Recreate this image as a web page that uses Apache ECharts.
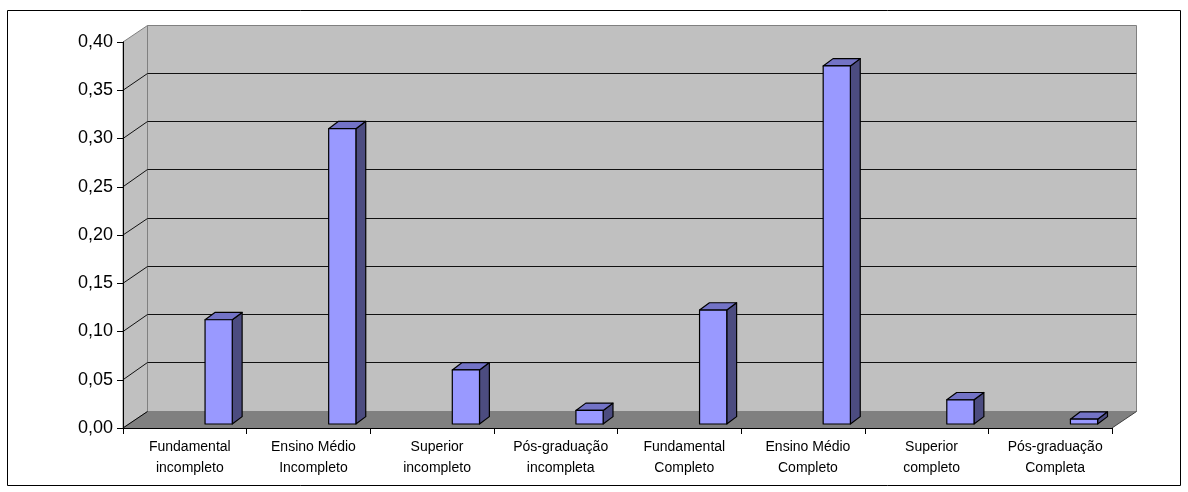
<!DOCTYPE html>
<html>
<head>
<meta charset="utf-8">
<script src="https://cdn.jsdelivr.net/npm/echarts@6/dist/echarts.min.js"></script>
<style>
  html, body { margin: 0; padding: 0; background: #ffffff; }
  #chart { width: 1188px; height: 492px; }
</style>
</head>
<body>
<div id="chart"></div>
<script>
// Education level categories and their shares
const categories = [
  'Fundamental\nincompleto',
  'Ensino Médio\nIncompleto',
  'Superior\nincompleto',
  'Pós-graduação\nincompleta',
  'Fundamental\nCompleto',
  'Ensino Médio\nCompleto',
  'Superior\ncompleto',
  'Pós-graduação\nCompleta'
];
const values = [0.108, 0.306, 0.056, 0.014, 0.118, 0.371, 0.025, 0.005];
const yTicks = [0, 0.05, 0.10, 0.15, 0.20, 0.25, 0.30, 0.35, 0.40];

// Oblique depth of the plot box, in pixels (x shift, y shift)
const DEPTH = [23.5, -17.5];
// Where each column sits inside the box depth and inside its category slot
const BAR_FRONT = 0.23, BAR_BACK = 0.65;
const BAR_LEFT = 0.62, BAR_WIDTH = 0.22;

const FONT = '"Liberation Sans", Arial, sans-serif';

function fmt(v) { return v.toFixed(2).replace('.', ','); }

// Walls, floor and back gridlines of the 3D box
function renderFrame(params, api) {
  const n = categories.length;
  const w = api.size([1, 0])[0];
  const x0 = api.coord([0, 0])[0] - w / 2;
  const x1 = api.coord([n - 1, 0])[0] + w / 2;
  const yb = api.coord([0, yTicks[0]])[1];
  const yt = api.coord([0, yTicks[yTicks.length - 1]])[1];
  const dx = DEPTH[0], dy = DEPTH[1];
  const bx0 = Math.round(x0 + dx) + 0.5, bx1 = Math.round(x1 + dx) + 0.5;
  const byt = Math.round(yt + dy) + 0.5, byb = Math.round(yb + dy) + 0.5;
  const children = [];
  // back wall
  children.push({ type: 'polygon', shape: { points: [[bx0, byt], [bx1, byt], [bx1, byb], [bx0, byb]] },
    style: { fill: '#C0C0C0', stroke: '#808080', lineWidth: 1 } });
  // left side wall
  children.push({ type: 'polygon', shape: { points: [[x0, yt], [bx0, byt], [bx0, byb], [x0, yb]] },
    style: { fill: '#C0C0C0', stroke: '#808080', lineWidth: 1 } });
  // floor
  children.push({ type: 'polygon', shape: { points: [[x0, yb], [x1, yb], [bx1, byb], [bx0, byb]] },
    style: { fill: '#808080', stroke: null } });
  // floor right edge
  children.push({ type: 'line', shape: { x1: x1, y1: yb, x2: bx1, y2: byb },
    style: { stroke: '#404040', lineWidth: 1 } });
  // floor left edge
  children.push({ type: 'line', shape: { x1: x0, y1: yb, x2: bx0, y2: byb },
    style: { stroke: '#000000', lineWidth: 1 } });
  // gridlines: diagonal on side wall, horizontal on back wall
  yTicks.forEach(function (v, k) {
    if (k === 0 || k === yTicks.length - 1) return;
    const y = api.coord([0, v])[1];
    const by = Math.round(y + dy) + 0.5;
    children.push({ type: 'polyline', shape: { points: [[x0, y], [bx0, by], [bx1, by]] },
      style: { stroke: '#111111', fill: null, lineWidth: 1 } });
  });
  return { type: 'group', children: children };
}

// One 3D column: side face, top face, front face
function renderBar(params, api) {
  const i = api.value(0), v = api.value(1);
  const w = api.size([1, 0])[0];
  const base = api.coord([i, 0]);
  const top = api.coord([i, v])[1];
  const xs = base[0] - w / 2 + BAR_LEFT * w + BAR_FRONT * DEPTH[0];
  const xe = xs + BAR_WIDTH * w;
  const yb = base[1] + BAR_FRONT * DEPTH[1];
  const yt = top + BAR_FRONT * DEPTH[1];
  const ddx = (BAR_BACK - BAR_FRONT) * DEPTH[0];
  const ddy = (BAR_BACK - BAR_FRONT) * DEPTH[1];
  const edge = { stroke: '#000000', lineWidth: 1.2, lineJoin: 'round' };
  return {
    type: 'group',
    children: [
      { type: 'polygon', shape: { points: [[xe, yt], [xe + ddx, yt + ddy], [xe + ddx, yb + ddy], [xe, yb]] },
        style: Object.assign({ fill: '#4C4C80' }, edge) },
      { type: 'polygon', shape: { points: [[xs, yt], [xs + ddx, yt + ddy], [xe + ddx, yt + ddy], [xe, yt]] },
        style: Object.assign({ fill: '#7373C6' }, edge) },
      { type: 'rect', shape: { x: xs, y: yt, width: xe - xs, height: yb - yt },
        style: Object.assign({ fill: '#9999FF' }, edge) }
    ]
  };
}

const chart = echarts.init(document.getElementById('chart'), null, { renderer: 'canvas' });
chart.setOption({
  animation: false,
  backgroundColor: '#ffffff',
  graphic: [{
    type: 'rect', z: -10, silent: true,
    shape: { x: 7.5, y: 10.5, width: 1173, height: 475 },
    style: { fill: null, stroke: '#000000', lineWidth: 1 }
  }],
  grid: { left: 123, right: 76, top: 42, bottom: 64, containLabel: false },
  xAxis: {
    type: 'category',
    data: categories,
    boundaryGap: true,
    axisLine: { show: true, lineStyle: { color: '#000000', width: 1 } },
    axisTick: { show: true, length: 6, lineStyle: { color: '#000000' } },
    axisLabel: {
      interval: 0, color: '#000000', fontFamily: FONT, fontSize: 14,
      lineHeight: 21, margin: 9, padding: [0, 0, 0, 10]
    },
    splitLine: { show: false }
  },
  yAxis: {
    type: 'value',
    min: 0, max: 0.40, interval: 0.05,
    axisLine: { show: true, lineStyle: { color: '#000000', width: 1 } },
    axisTick: { show: true, length: 6, lineStyle: { color: '#000000' } },
    axisLabel: { color: '#000000', fontFamily: FONT, fontSize: 18, margin: 10, formatter: fmt },
    splitLine: { show: false }
  },
  series: [
    {
      type: 'custom', z: -1, silent: true,
      renderItem: renderFrame,
      data: [[0, 0]],
      encode: { x: 0, y: 1 }
    },
    {
      type: 'custom', z: 3,
      renderItem: renderBar,
      data: values.map(function (v, i) { return [i, v]; }),
      encode: { x: 0, y: 1 }
    }
  ]
});
</script>
</body>
</html>
